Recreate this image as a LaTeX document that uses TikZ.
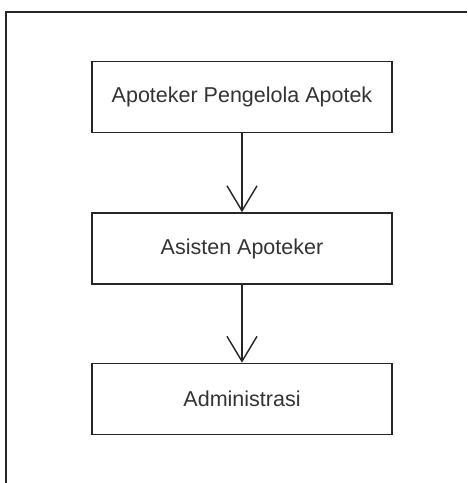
\documentclass[tikz,border=0pt]{standalone}
\usepackage{fontspec}
\setmainfont{Liberation Sans}
\usetikzlibrary{arrows.meta,positioning}

\begin{document}
\begin{tikzpicture}[x=1pt,y=-1pt]
\tikzset{box/.style = {shape=rectangle,draw=black!85,line width=1.6pt,minimum width=300pt,minimum height=71pt,text=black!80,font=\fontsize{21.5}{24}\selectfont}}
\tikzset{edge/.style = {-{Straight Barb[length=25pt,width=30pt,line width=1.4pt]},draw=black!85,line width=1.4pt}}
\useasboundingbox (0,0) rectangle (467,483);
% FRAME
\coordinate (fb) at (6,483);
\coordinate (fc) at (6,12);
\coordinate (fr) at (467,12);
\draw[black!85,line width=1.6pt] (fb) -- (fc) -- (fr);
% NODES
\node[box] (apa) at (242,97) {Apoteker Pengelola Apotek};
\node[box] (asisten) at (242,248.5) {Asisten Apoteker};
\node[box] (admin) at (242,399) {Administrasi};
% EDGES
\draw[edge] (apa) to (asisten);
\draw[edge] (asisten) to (admin);
\end{tikzpicture}
\end{document}
